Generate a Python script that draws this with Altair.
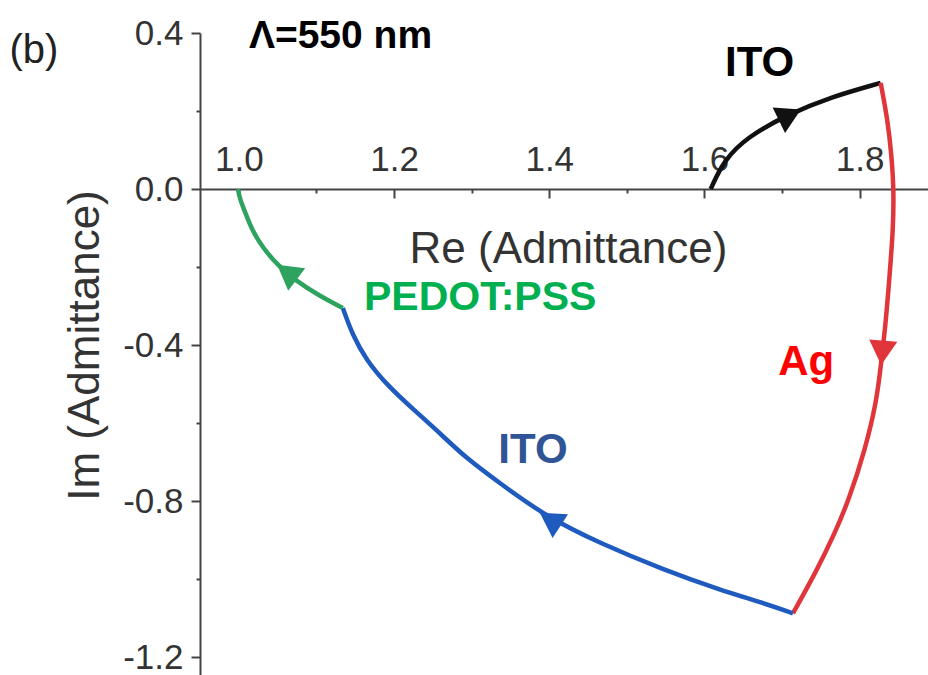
import altair as alt
import pandas as pd

# ---- curve data (Re, Im of admittance) ----
black_x = [1.608, 1.625, 1.655, 1.706, 1.763, 1.827]
black_y = [0.0, 0.074, 0.133, 0.190, 0.236, 0.272]

red_x = [1.827, 1.836, 1.841, 1.844, 1.843, 1.839, 1.834, 1.827, 1.822, 1.807, 1.786, 1.768, 1.745, 1.714]
red_y = [0.272, 0.177, 0.087, -0.003, -0.105, -0.208, -0.336, -0.456, -0.541, -0.669, -0.797, -0.882, -0.977, -1.088]

blue_x = [1.714, 1.677, 1.620, 1.548, 1.465, 1.397, 1.336, 1.290, 1.263, 1.226, 1.192, 1.164, 1.146, 1.134]
blue_y = [-1.088, -1.062, -1.028, -0.977, -0.908, -0.841, -0.754, -0.685, -0.633, -0.567, -0.505, -0.438, -0.372, -0.305]

green_x = [1.134, 1.104, 1.072, 1.050, 1.031, 1.017, 1.008, 1.001, 0.999]
green_y = [-0.305, -0.274, -0.233, -0.195, -0.151, -0.105, -0.059, -0.023, 0.0]

seg_names = ["ITO_top", "Ag", "ITO_blue", "PEDOT"]
seg_colors = ["#111111", "#e0353a", "#1f5bbf", "#2ea35f"]

# arrowheads
arrow_seg = ["ITO_top", "Ag", "ITO_blue", "PEDOT"]
arrow_x = [1.710, 1.829, 1.401, 1.062]
arrow_y = [0.190, -0.420, -0.847, -0.213]
arrow_angle = [64, 185, 303, 307]

# annotations
ann_text = ["ITO", "PEDOT:PSS", "Ag", "ITO", "Λ=550 nm"]
ann_x = [1.671, 1.311, 1.731, 1.379, 1.131]
ann_y = [0.290, -0.310, -0.477, -0.703, 0.362]
ann_color = ["#000000", "#00b050", "#ff0000", "#2f5597", "#000000"]
ann_size = [42, 41, 42, 42, 39]

panel_text = ["(b)"]
panel_x = [0.736]
panel_y = [0.323]

x_major = [1.0, 1.2, 1.4, 1.6, 1.8]
x_minor = [1.1, 1.3, 1.5, 1.7]
y_major = [0.4, 0.0, -0.4, -0.8, -1.2]
y_minor = [0.2, -0.2, -0.6, -1.0]

X_DOMAIN = [0.95, 1.888]
Y_DOMAIN = [-1.246, 0.4]
FONT = "Liberation Sans"

rows = []
for name, xs_, ys_ in zip(seg_names, [black_x, red_x, blue_x, green_x], [black_y, red_y, blue_y, green_y]):
    for i, (a, b) in enumerate(zip(xs_, ys_)):
        rows.append({"seg": name, "x": a, "y": b, "o": i})
lines_df = pd.DataFrame(rows)

arrows_df = pd.DataFrame({"seg": arrow_seg, "x": arrow_x, "y": arrow_y, "angle": arrow_angle})
ann_df = pd.DataFrame({"t": ann_text, "x": ann_x, "y": ann_y, "c": ann_color, "s": ann_size})
panel_df = pd.DataFrame({"t": panel_text, "x": panel_x, "y": panel_y})

xs = alt.Scale(domain=X_DOMAIN, nice=False, zero=False)
ys = alt.Scale(domain=Y_DOMAIN, nice=False, zero=False)
cs = alt.Scale(domain=seg_names, range=seg_colors)

label_expr = "datum.value < 0 ? '-' + format(-datum.value, '.1f') : format(datum.value, '.1f')"

x_axis = alt.Axis(
    orient="bottom", offset=-486, values=x_major, labelExpr=label_expr,
    tickSize=9, tickWidth=2, tickColor="#444", domainColor="#444", domainWidth=2,
    labelFont=FONT, labelFontSize=35, labelColor="#333", labelBaseline="alphabetic",
    labelPadding=-28, labelFlush=False, labelOverlap=False, grid=False,
    title="Re (Admittance)", titleFont=FONT, titleFontSize=44, titleFontWeight="normal",
    titleColor="#333", titleX=368, titleY=73, titleAlign="center", titleBaseline="alphabetic",
)
y_axis = alt.Axis(
    orient="left", values=y_major, labelExpr=label_expr,
    tickSize=9, tickWidth=2, tickColor="#444", domainColor="#444", domainWidth=2,
    labelFont=FONT, labelFontSize=35, labelColor="#333", labelBaseline="middle",
    labelPadding=8, labelFlush=False, labelOverlap=False, grid=False,
    title="Im (Admittance)", titleFont=FONT, titleFontSize=44, titleFontWeight="normal",
    titleColor="#333", titleX=-102, titleY=312, titleAngle=270, titleAlign="center",
    titleBaseline="alphabetic",
)
x_minor_axis = alt.Axis(
    orient="bottom", offset=-486, values=x_minor, labels=False, domain=False,
    tickSize=4, tickWidth=2, tickColor="#444", grid=False, title="",
)
y_minor_axis = alt.Axis(
    orient="left", values=y_minor, labels=False, domain=False,
    tickSize=4, tickWidth=2, tickColor="#444", grid=False, title="",
)

lines = alt.Chart(lines_df).mark_line(strokeWidth=4.5, interpolate="basis").encode(
    x=alt.X("x:Q", scale=xs, axis=x_axis),
    y=alt.Y("y:Q", scale=ys, axis=y_axis),
    color=alt.Color("seg:N", scale=cs, legend=None),
    detail="seg:N",
    order="o:Q",
)

arrows = alt.Chart(arrows_df).mark_point(shape="triangle-up", filled=True, size=800, opacity=1).encode(
    x=alt.X("x:Q", scale=xs, axis=x_minor_axis),
    y=alt.Y("y:Q", scale=ys, axis=y_minor_axis),
    color=alt.Color("seg:N", scale=cs, legend=None),
    angle=alt.Angle("angle:Q", scale=None),
)

ann = alt.Chart(ann_df).mark_text(font=FONT, fontWeight="bold", align="center", baseline="alphabetic").encode(
    x=alt.X("x:Q", scale=xs, axis=None),
    y=alt.Y("y:Q", scale=ys, axis=None),
    text="t:N",
    color=alt.Color("c:N", scale=None),
    size=alt.Size("s:Q", scale=None),
)

panel = alt.Chart(panel_df).mark_text(font=FONT, fontSize=40, color="#222", align="center", baseline="alphabetic").encode(
    x=alt.X("x:Q", scale=xs, axis=None),
    y=alt.Y("y:Q", scale=ys, axis=None),
    text="t:N",
)

chart = alt.layer(lines, arrows, ann, panel).resolve_axis(
    x="independent", y="independent"
).properties(
    width=728, height=642,
    padding={"left": 200, "top": 33, "right": 0, "bottom": 0},
    autosize=alt.AutoSizeParams(type="none"),
    background="white",
).configure_view(strokeWidth=0)

chart.save("out.html", embed_options={"renderer": "svg", "actions": False})
